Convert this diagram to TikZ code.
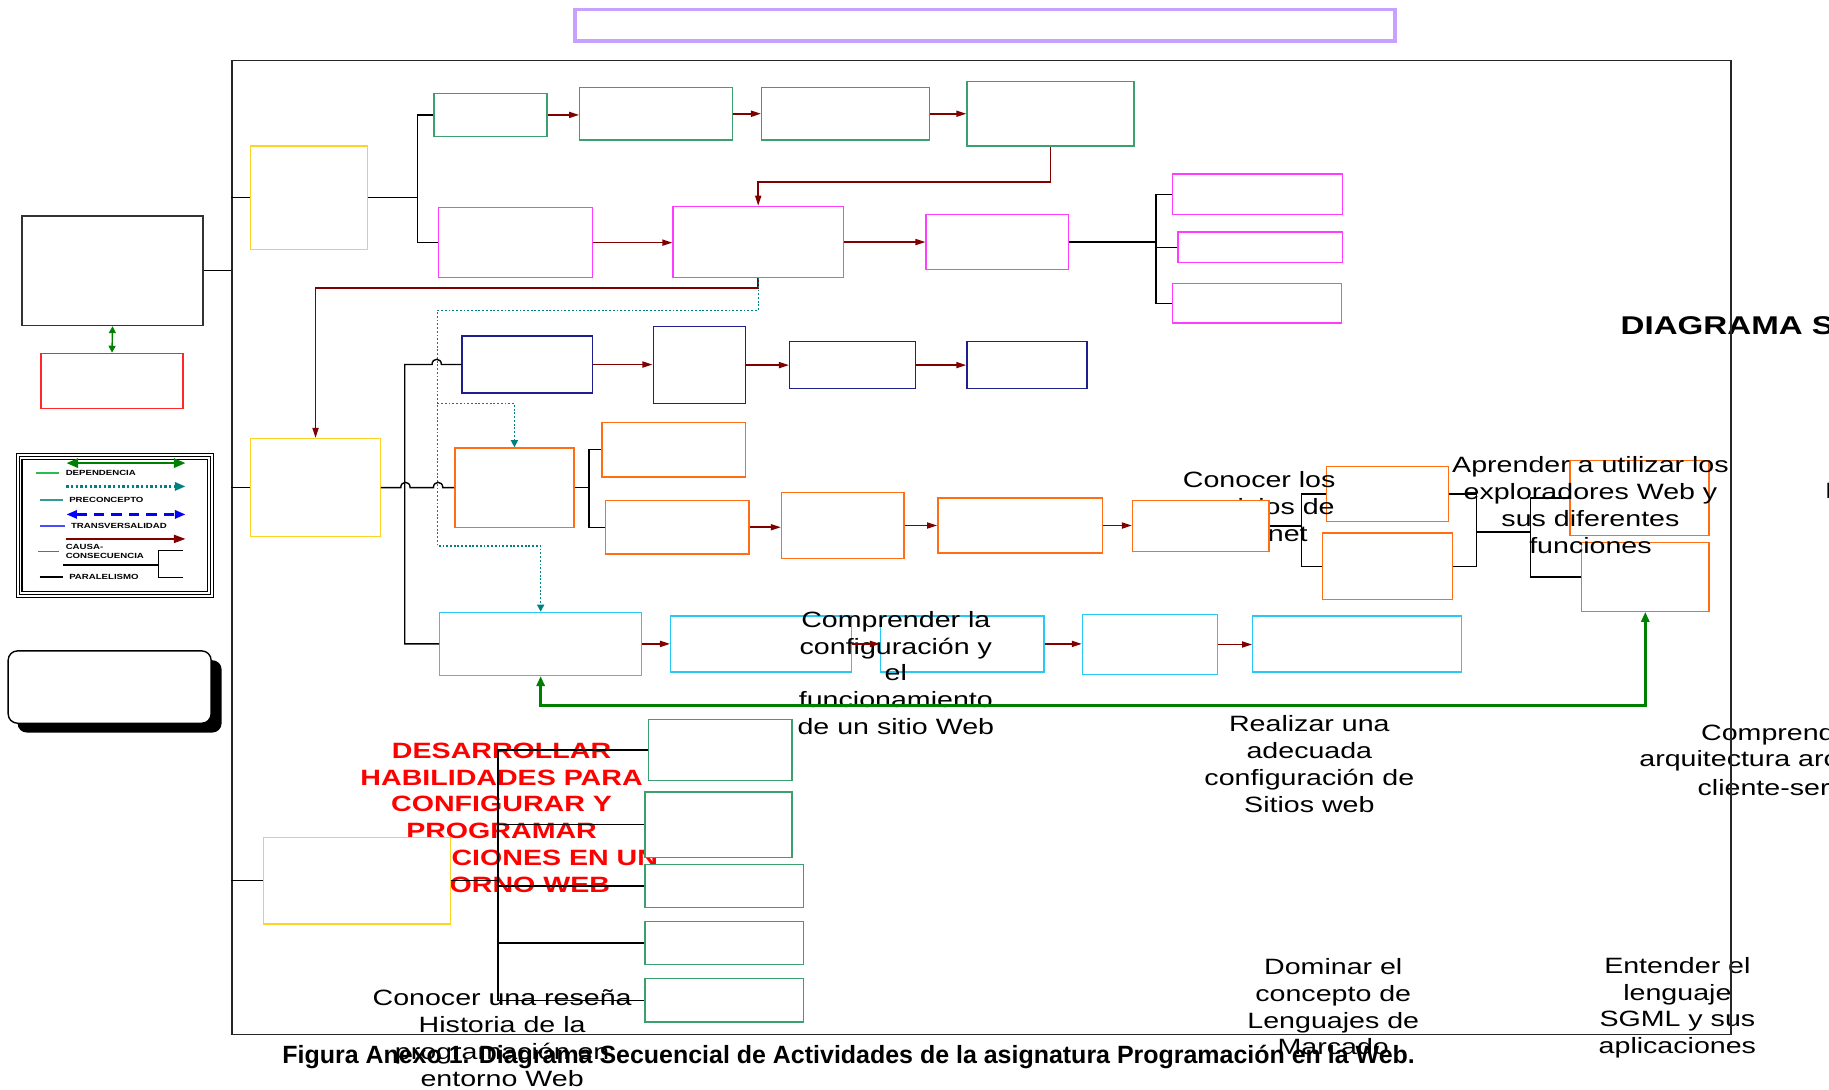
\documentclass[tikz,border=0pt]{standalone}
\usepackage{fontspec}
\setmainfont{Liberation Sans}
\newfontfamily\wf[FakeStretch=1.29]{Liberation Sans}
\usetikzlibrary{arrows.meta,fit}
\definecolor{cGreen}{RGB}{60,160,110}
\definecolor{cMag}{RGB}{255,60,255}
\definecolor{cNavy}{RGB}{30,30,140}
\definecolor{cOrange}{RGB}{255,110,20}
\definecolor{cCyan}{RGB}{40,200,245}
\definecolor{cYellow}{RGB}{255,210,40}
\definecolor{cDRed}{RGB}{128,0,0}
\definecolor{cTeal}{RGB}{0,128,128}
\definecolor{cDGreen}{RGB}{0,128,0}
\definecolor{cLav}{RGB}{200,160,255}
\definecolor{cRedBox}{RGB}{255,40,40}
\definecolor{cBrown}{RGB}{190,80,40}
\definecolor{cBlue}{RGB}{0,0,255}
\tikzset{
  bx/.style={draw=#1,fill=white,line width=0.6pt,inner sep=0pt},
  carrow/.style={draw=cDRed,line width=0.7pt,-{Triangle[length=4.3pt,width=2.6pt]}},
  plink/.style={draw=black,line width=0.6pt},
  tarrow/.style={draw=cTeal,line width=0.6pt,dash pattern=on 0.8pt off 0.8pt,-{Triangle[length=3pt,width=3pt]}},
  garrow/.style={draw=cDGreen,line width=1.2pt,{Triangle[length=4.3pt,width=3.5pt]}-{Triangle[length=4.3pt,width=3.5pt]}},
  txt/.style={font=\wf\fontsize{9.5}{11.5}\selectfont,align=center,inner sep=0pt},
  rtxt/.style={font=\wf\bfseries\fontsize{9.5}{11.5}\selectfont,align=center,inner sep=0pt,text=red},
  lgt/.style={font=\wf\bfseries\fontsize{3.2}{3.7}\selectfont,anchor=west,inner sep=0pt,align=left},
  edgetxt/.style={font=\wf\fontsize{9.5}{11.5}\selectfont,anchor=west,inner sep=0pt}
}
\begin{document}
\begin{tikzpicture}[x=0.5pt,y=-0.5pt]
\useasboundingbox (0,0) rectangle (1568,934);
\fill[white] (0,0) rectangle (1568,934);

% ---------- boxes that lie under texts ----------
\node[bx=cOrange, fit={(1137,400)(1242,447)}] (O7) {};
\node[bx=cOrange, fit={(1346,395)(1465,459)}] (O9) {};
\node[bx=cOrange, fit={(1356,465)(1465,524)}] (O10) {};
\node[bx=cCyan, fit={(575,528)(730,576)}] (C2) {};
\node[bx=cCyan, fit={(755,528)(895,576)}] (C3) {};

% ---------- texts ----------
\node[txt] (T1) at (1079.5,434) {Conocer los\\servicios de\\Internet};
\node[txt] (T2) at (1363.5,433) {Aprender a utilizar los\\exploradores Web y\\sus diferentes\\funciones};
\begin{scope}
\clip (600,500) rectangle (852.5,640);
\node[txt] (T3) at (768,577) {Comprender la\\configuración y\\el\\funcionamiento\\de un sitio Web};
\end{scope}
\node[txt] (T4) at (1122.5,655) {Realizar una\\adecuada\\configuración de\\Sitios web};
\node[txt] (T5) at (1143,863) {Dominar el\\concepto de\\Lenguajes de\\Marcado};
\node[txt] (T6) at (1438,864) {Entender el\\lenguaje\\SGML y sus\\aplicaciones};
\node[txt] (T7) at (430.5,890) {Conocer una reseña\\Historia de la\\programación en\\entorno Web};
\node[rtxt] (T8) at (430,701) {DESARROLLAR\\HABILIDADES PARA\\CONFIGURAR Y\\PROGRAMAR\\APLICACIONES EN UN\\ENTORNO WEB};
\node[font=\wf\bfseries\fontsize{11}{13}\selectfont,anchor=west,inner sep=0pt] (T9) at (1389,279) {DIAGRAMA S};
\node[edgetxt] (T10) at (1564,421) {I};
\node[edgetxt] (T11) at (1458,630) {Comprend};
\node[edgetxt] (T12) at (1405,652) {arquitectura arc};
\node[edgetxt] (T13) at (1455,675) {cliente-ser};

% ---------- title box ----------
\node[draw=cLav,line width=1.5pt,fit={(493,8)(1196,35)},inner sep=0pt] (P) {};

% ---------- left column ----------
\node[bx=black!80, fit={(19,185)(174,279)}] (K) {};
\node[bx=cRedBox, fit={(35,303)(157,350)}] (R) {};
\draw[draw=cDGreen,line width=0.6pt,{Triangle[length=3pt,width=3pt]}-{Triangle[length=3pt,width=3pt]}] (K.south) -- (R.north);

% legend
\node[draw,line width=0.6pt,fit={(14,389)(183,512)},inner sep=0pt] (L1) {};
\node[draw,line width=0.6pt,fit={(16.5,391.5)(180.5,509.5)},inner sep=0pt] (L2) {};
\node[draw,line width=0.6pt,fit={(19,394)(178,507)},inner sep=0pt] (L3) {};
\draw[draw=cDGreen,line width=1pt,{Triangle[length=5pt,width=4pt]}-{Triangle[length=5pt,width=4pt]}] (57,397) -- (159,397);
\draw[draw=cTeal,line width=1pt,dash pattern=on 1pt off 1pt,-{Triangle[length=4.5pt,width=3.5pt]}] (57,417) -- (159,417);
\draw[draw=cBlue,line width=1pt,dash pattern=on 4.5pt off 3pt,{Triangle[length=4.5pt,width=3.5pt]}-{Triangle[length=4.5pt,width=3.5pt]}] (57,441) -- (159,441);
\draw[draw=cDRed,line width=0.7pt,-{Triangle[length=5pt,width=3.5pt]}] (57,462) -- (159,462);
\draw[draw=cGreen!70!green,line width=0.6pt] (31,405.5) -- (51,405.5);
\draw[draw=cTeal!80,line width=0.6pt] (34,428.5) -- (54,428.5);
\draw[draw=cBlue!70,line width=0.6pt] (34,451) -- (56,451);
\draw[draw=cBrown,line width=0.6pt] (33,473) -- (51,473);
\draw[draw=black,line width=0.6pt] (34,494.5) -- (54,494.5);
\draw[draw=black,line width=0.6pt] (54,484.5) -- (136,484.5);
\draw[draw=black,line width=0.6pt] (157,472) -- (136,472) -- (136,495) -- (157,495);
\node[lgt] (LT1) at (56,405.5) {DEPENDENCIA};
\node[lgt] (LT2) at (59,428.5) {PRECONCEPTO};
\node[lgt] (LT3) at (60.5,450.5) {TRANSVERSALIDAD};
\node[lgt] (LT4) at (56,472.5) {CAUSA-\\CONSECUENCIA};
\node[lgt] (LT5) at (59,494.5) {PARALELISMO};

% shadow box
\fill[black,rounded corners=4pt] (15,566) rectangle (190,628);
\node[draw,fill=white,rounded corners=4pt,line width=0.6pt,fit={(7,558)(181,620)},inner sep=0pt] (S) {};

% ---------- main boxes ----------
\node[bx=cYellow, fit={(215,125)(315,214)}] (A) {};
\node[bx=cYellow, fit={(215,376)(326,460)}] (B) {};
\node[bx=cYellow, fit={(226,718)(386,792)}] (YC) {};

\node[bx=cGreen, fit={(372,80)(469,117)}] (G1) {};
\node[bx=cGreen, fit={(497,75)(628,120)}] (G2) {};
\node[bx=cGreen, fit={(653,75)(797,120)}] (G3) {};
\node[bx=cGreen, fit={(829,70)(972,125)}] (G4) {};

\node[bx=cMag, fit={(376,178)(508,238)}] (M1) {};
\node[bx=cMag, fit={(577,177)(723,238)}] (M2) {};
\node[bx=cMag, fit={(794,184)(916,231)}] (M3) {};
\node[bx=cMag, fit={(1005,149)(1151,184)}] (M4) {};
\node[bx=cMag, fit={(1010,199)(1151,225)}] (M5) {};
\node[bx=cMag, fit={(1005,243)(1150,277)}] (M6) {};

\node[bx=cNavy, fit={(396,288)(508,337)}] (N1) {};
\node[bx=cNavy, fit={(560,280)(639,346)}] (N2) {};
\node[bx=cNavy, fit={(677,293)(785,333)}] (N3) {};
\node[bx=cNavy, fit={(829,293)(932,333)}] (N4) {};

\node[bx=cOrange, fit={(390,384)(492,452)}] (O1) {};
\node[bx=cOrange, fit={(516,362)(639,409)}] (O2) {};
\node[bx=cOrange, fit={(519,429)(642,475)}] (O3) {};
\node[bx=cOrange, fit={(670,422)(775,479)}] (O4) {};
\node[bx=cOrange, fit={(804,427)(945,474)}] (O5) {};
\node[bx=cOrange, fit={(971,429)(1088,473)}] (O6) {};
\node[bx=cOrange, fit={(1134,457)(1245,514)}] (O8) {};

\node[bx=cCyan, fit={(377,525)(550,579)}] (C1) {};
\node[bx=cCyan, fit={(928,527)(1044,578)}] (C4) {};
\node[bx=cCyan, fit={(1074,528)(1253,576)}] (C5) {};

\node[bx=cGreen, fit={(556,617)(679,669)}] (GB1) {};
\node[bx=cGreen, fit={(553,679)(679,735)}] (GB2) {};
\node[bx=cGreen, fit={(553,741)(689,778)}] (GB3) {};
\node[bx=cGreen, fit={(553,790)(689,827)}] (GB4) {};
\node[bx=cGreen, fit={(553,839)(689,876)}] (GB5) {};

% ---------- frame ----------
\node[draw=black!85,line width=0.6pt,fit={(199,52)(1484,887)},inner sep=0pt] (Fr) {};

% ---------- connectors ----------
\draw[plink] (A.west) -- (A.west -| Fr.west);
\draw[plink] (K.east) -- (K.east -| Fr.west);
\draw[plink] (B.west) -- (B.west -| Fr.west);
\draw[plink] (YC.west) -- (YC.west -| Fr.west);

\coordinate (jA) at (358,169.5);
\draw[plink] (A.east) -- (jA);
\draw[plink] (G1.west) -| (jA) |- (M1.west);

\draw[carrow] (G1.east) -- (G1.east -| G2.west);
\draw[carrow] (G2.east) -- (G2.east -| G3.west);
\draw[carrow] (G3.east) -- (G3.east -| G4.west);
\coordinate (jG) at (760,156);
\draw[carrow] (G4.south) |- (jG) -| (M2.north);

\draw[carrow] (M1.east) -- (M1.east -| M2.west);
\draw[carrow] (M2.east) -- (M2.east -| M3.west);
\coordinate (jM) at (991,207.5);
\draw[plink] (M3.east) -- (jM);
\draw[plink] (M4.west) -| (jM) |- (M6.west);
\draw[plink] (M5.west) -- (M5.west -| jM);

\coordinate (jR) at (450,247);
\draw[carrow] (M2.south) |- (jR) -| (B.north);

\coordinate (tA) at (375,266);
\coordinate (tB) at (375,468);
\coordinate (tC) at (375,346);
\draw[tarrow] (M2.south) |- (tA) -- (tB) -| (C1.north);
\draw[tarrow] (tC) -| (O1.north);

\coordinate (jN) at (347,312.5);
\coordinate (jC) at (347,552);
\draw[plink] (N1.west) -- ++(-17,0) .. controls +(0,-6) and +(0,-6) .. ++(-8,0) -- (jN) -- (jC) -- (C1.west);
\draw[plink] (B.east) -- ++(17,0) .. controls +(0,-6) and +(0,-6) .. ++(8,0) -- ++(20,0) .. controls +(0,-6) and +(0,-6) .. ++(8,0) -- (O1.west);

\draw[carrow] (N1.east) -- (N1.east -| N2.west);
\draw[carrow] (N2.east) -- (N2.east -| N3.west);
\draw[carrow] (N3.east) -- (N3.east -| N4.west);

\coordinate (jO) at (505,418);
\draw[plink] (O1.east) -- (jO);
\draw[plink] (O2.west) -| (jO) |- (O3.west);
\draw[carrow] (O3.east) -- (O3.east -| O4.west);
\draw[carrow] (O4.east) -- (O4.east -| O5.west);
\draw[carrow] (O5.east) -- (O5.east -| O6.west);
\coordinate (jO2) at (1116,451);
\draw[plink] (O6.east) -- (jO2);
\draw[plink] (O7.west) -| (jO2) |- (O8.west);
\coordinate (jP) at (1266,456);
\coordinate (jQ) at (1312,456);
\draw[plink] (O7.east) -| (jP) |- (O8.east);
\draw[plink] (jP) -- (jQ);
\draw[plink] (O9.west) -| (jQ) |- (O10.west);

\draw[carrow] (C1.east) -- (C1.east -| C2.west);
\draw[carrow] (C2.east) -- (C2.east -| C3.west);
\draw[carrow] (C3.east) -- (C3.east -| C4.west);
\draw[carrow] (C4.east) -- (C4.east -| C5.west);

\coordinate (gA) at (900,605);
\draw[garrow] (C1.south) |- (gA) -| (O10.south);

\coordinate (jY) at (427,755);
\draw[plink] (YC.east) -- (jY);
\draw[plink] (GB1.west) -| (jY) |- (GB5.west);
\draw[plink] (GB2.west) -- (GB2.west -| jY);
\draw[plink] (GB3.west) -- (GB3.west -| jY);
\draw[plink] (GB4.west) -- (GB4.west -| jY);

% ---------- caption ----------
\node[font=\bfseries\fontsize{10.7}{12}\selectfont,inner sep=0pt] (cap) at (727.5,906) {Figura Anexo 1. Diagrama Secuencial de Actividades de la asignatura Programación en la Web.};
\end{tikzpicture}
\end{document}
